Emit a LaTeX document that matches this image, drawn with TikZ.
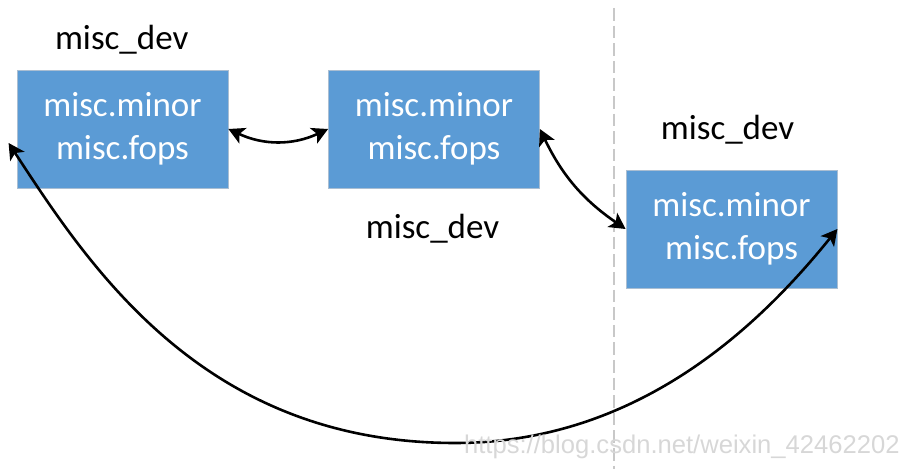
\documentclass[tikz,border=0pt]{standalone}
\usepackage{fontspec}
\setmainfont{Carlito}
\newfontfamily\markfont{Liberation Sans}
\usetikzlibrary{arrows.meta}

\definecolor{boxblue}{RGB}{91,155,213}
\definecolor{boxedge}{RGB}{170,190,210}
\definecolor{sepgray}{RGB}{200,200,200}
\definecolor{markgray}{RGB}{215,215,215}

\begin{document}
\begin{tikzpicture}[x=0.5pt, y=0.5pt, >={Stealth[length=8pt,width=8.5pt,inset=2pt]},
    devbox/.style={draw=boxedge, line width=0.4pt, fill=boxblue, text=white,
      minimum width=105.5pt, minimum height=59pt, inner sep=0pt, align=center,
      font=\fontsize{17.5}{21.5}\selectfont},
    devlabel/.style={anchor=base, inner sep=0pt, font=\fontsize{17.5}{21.5}\selectfont},
    link/.style={<->, line width=1.3pt}]
    \useasboundingbox (0,0) rectangle (903,469);
    % separator
    \draw[sepgray, line width=1pt, dash pattern=on 6.3pt off 2.5pt] (614,461) -- (614,0);
    % the three devices
    \node[devbox] (dev1) at (122.5,340) {misc.minor\\misc.fops};
    \node[devbox] (dev2) at (434,340) {misc.minor\\misc.fops};
    \node[devbox] (dev3) at (731.5,240) {misc.minor\\misc.fops};
    \node[devlabel] (name1) at (121.7,419.7) {misc\_dev};
    \node[devlabel] (name2) at (432.5,230.7) {misc\_dev};
    \node[devlabel] (name3) at (727.5,329.7) {misc\_dev};
    % links
    \draw[link] (dev1.east) to[bend right=25] (dev2.west);
    \draw[link] (dev2.east) to[bend right=15] (dev3.west);
    \draw[link] ([shift={(-8,-14)}]dev1.west) .. controls (90.8,200) and (205,26) .. (455,26)
        .. controls (635,26) and (756,139) .. (dev3.east);
    \node[markgray, anchor=base east, inner sep=0pt, font=\markfont\fontsize{12.8}{15}\selectfont] (mark) at (900,15) {https://blog.csdn.net/weixin\_42462202};
\end{tikzpicture}
\end{document}
